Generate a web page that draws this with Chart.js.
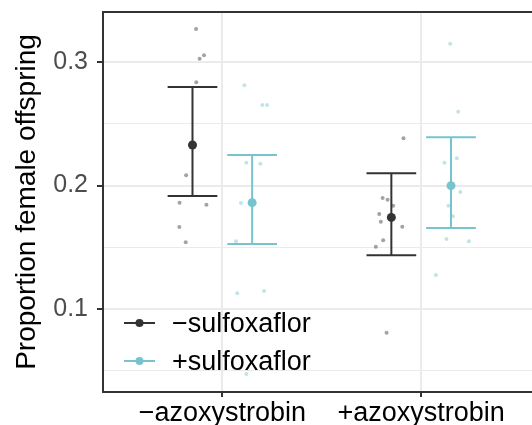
<!DOCTYPE html>
<html>
<head>
<meta charset="utf-8">
<script src="https://cdn.jsdelivr.net/npm/chart.js@4"></script>
<style>
html, body { margin: 0; padding: 0; background: #fff; overflow: hidden; }
</style>
</head>
<body>
<canvas id="chart" width="545" height="425"></canvas>
<script>
// categories and groups
const categories = ["\u2212azoxystrobin", "+azoxystrobin"];
const groups = ["\u2212sulfoxaflor", "+sulfoxaflor"];

// means and error bars (per category)
const meanMinus = [0.2328, 0.1742];
const lowMinus = [0.1915, 0.1435];
const highMinus = [0.2798, 0.2099];
const meanPlus = [0.1861, 0.1999];
const lowPlus = [0.1526, 0.1656];
const highPlus = [0.2247, 0.2390];

// raw jittered observations (x in category units)
const rawMinusX = [0.868, 0.908, 0.886, 0.869, 0.818, 0.785, 0.920, 0.784, 0.816,
                   1.911, 1.806, 1.831, 1.859, 1.789, 1.797, 1.905, 1.809, 1.772, 1.826];
const rawMinusY = [0.3267, 0.3054, 0.3027, 0.2836, 0.2083, 0.1861, 0.1845, 0.1664, 0.1540,
                   0.2382, 0.1899, 0.1885, 0.1836, 0.1769, 0.1707, 0.1667, 0.1556, 0.1504, 0.0808];
const rawPlusX = [1.111, 1.201, 1.225, 1.121, 1.191, 1.094, 1.069, 1.075, 1.210, 1.121,
                  2.146, 2.186, 2.179, 2.117, 2.197, 2.137, 2.159, 2.127, 2.240, 2.074];
const rawPlusY = [0.2811, 0.2652, 0.2652, 0.2185, 0.2177, 0.1858, 0.1548, 0.1127, 0.1146, 0.0474,
                  0.3148, 0.2598, 0.2220, 0.2185, 0.1947, 0.1836, 0.1751, 0.1567, 0.1548, 0.1275];

const yTicks = [0.05, 0.1, 0.15, 0.2, 0.25, 0.3];

const DARK = "#333333";
const TEAL = "#78c4ce";
const dodge = 0.15;
const capHalf = 0.125;

function isMajor(v) {
    return Math.round(v * 100) % 10 === 0;
}

const series = [
    { color: DARK, off: -dodge, mean: meanMinus, low: lowMinus, high: highMinus },
    { color: TEAL, off: dodge, mean: meanPlus, low: lowPlus, high: highPlus },
];

// error bars, top border and the legend
const extras = {
    id: "extras",
    afterDatasetDraw(chart, args) {
        if (args.index !== 2) return;
        const { ctx, scales: { x, y } } = chart;
        ctx.save();
        ctx.lineWidth = 2;
        series.forEach((s) => {
            ctx.strokeStyle = s.color;
            for (let i = 0; i < categories.length; i++) {
                const cx = i + 1 + s.off;
                const px = x.getPixelForValue(cx);
                const x0 = x.getPixelForValue(cx - capHalf);
                const x1 = x.getPixelForValue(cx + capHalf);
                const yl = y.getPixelForValue(s.low[i]);
                const yh = y.getPixelForValue(s.high[i]);
                ctx.beginPath();
                ctx.moveTo(px, yl);
                ctx.lineTo(px, yh);
                ctx.moveTo(x0, yl);
                ctx.lineTo(x1, yl);
                ctx.moveTo(x0, yh);
                ctx.lineTo(x1, yh);
                ctx.stroke();
            }
        });
        ctx.restore();
    },
    afterDraw(chart) {
        const { ctx, chartArea } = chart;
        ctx.save();
        // top border
        ctx.strokeStyle = DARK;
        ctx.lineWidth = 2;
        ctx.beginPath();
        ctx.moveTo(chartArea.left, chartArea.top);
        ctx.lineTo(chartArea.right, chartArea.top);
        ctx.stroke();
        // legend
        const colors = [DARK, TEAL];
        groups.forEach((g, i) => {
            const ly = chartArea.bottom - 69 + i * 38;
            const lx = chartArea.left + 21;
            ctx.strokeStyle = colors[i];
            ctx.fillStyle = colors[i];
            ctx.lineWidth = 2;
            ctx.beginPath();
            ctx.moveTo(lx, ly);
            ctx.lineTo(lx + 31, ly);
            ctx.stroke();
            ctx.beginPath();
            ctx.arc(lx + 15.5, ly, 4, 0, Math.PI * 2);
            ctx.fill();
            ctx.fillStyle = "#000";
            ctx.font = "27px 'Liberation Sans', Arial, sans-serif";
            ctx.textBaseline = "alphabetic";
            ctx.fillText(g, lx + 48, ly + 9);
        });
        ctx.restore();
    },
};

new Chart(document.getElementById("chart"), {
    type: "scatter",
    data: {
        datasets: [
            {
                label: "mean minus",
                data: meanMinus.map((v, i) => ({ x: i + 1 - dodge, y: v })),
                backgroundColor: DARK,
                borderWidth: 0,
                pointRadius: 4.5,
            },
            {
                label: "mean plus",
                data: meanPlus.map((v, i) => ({ x: i + 1 + dodge, y: v })),
                backgroundColor: TEAL,
                borderWidth: 0,
                pointRadius: 4.5,
            },
            {
                label: "raw minus",
                data: rawMinusX.map((v, i) => ({ x: v, y: rawMinusY[i] })),
                backgroundColor: "rgba(51,51,51,0.45)",
                borderWidth: 0,
                pointRadius: 2,
            },
            {
                label: "raw plus",
                data: rawPlusX.map((v, i) => ({ x: v, y: rawPlusY[i] })),
                backgroundColor: "rgba(120,196,206,0.45)",
                borderWidth: 0,
                pointRadius: 2,
            },
        ],
    },
    options: {
        responsive: false,
        devicePixelRatio: 1,
        animation: false,
        layout: { padding: { top: 12, left: 0, right: 4, bottom: 0 } },
        plugins: {
            legend: { display: false },
            tooltip: { enabled: false },
        },
        scales: {
            x: {
                type: "linear",
                min: 0.4,
                max: 2.6,
                afterBuildTicks: (s) => {
                    s.ticks = [{ value: 1 }, { value: 2 }];
                },
                afterFit: (s) => {
                    s.height = 33;
                    s.paddingLeft = 0;
                    s.paddingRight = 0;
                },
                ticks: {
                    callback: (v) => categories[v - 1],
                    font: { family: "'Liberation Sans', Arial, sans-serif", size: 27 },
                    color: "#000",
                    padding: 0,
                    maxRotation: 0,
                    autoSkip: false,
                },
                grid: {
                    color: "#ebebeb",
                    lineWidth: 2,
                    tickLength: 5,
                    tickColor: DARK,
                    tickWidth: 2,
                },
                border: { color: DARK, width: 2 },
            },
            y: {
                min: 0.0328,
                max: 0.3405,
                afterBuildTicks: (s) => {
                    s.ticks = yTicks.map((v) => ({ value: v }));
                },
                afterFit: (s) => {
                    s.width = 103;
                    s.paddingTop = 0;
                    s.paddingBottom = 0;
                },
                ticks: {
                    callback: (v) => (isMajor(v) ? v.toFixed(1) : ""),
                    font: { family: "'Liberation Sans', Arial, sans-serif", size: 25 },
                    color: "#4d4d4d",
                    padding: 9,
                    autoSkip: false,
                },
                grid: {
                    color: "#ebebeb",
                    lineWidth: (c) => (c.tick && isMajor(c.tick.value) ? 2 : 1),
                    tickLength: 6,
                    tickColor: (c) => (c.tick && isMajor(c.tick.value) ? DARK : "rgba(0,0,0,0)"),
                    tickWidth: 2,
                },
                border: { color: DARK, width: 2 },
                title: {
                    display: true,
                    text: "Proportion female offspring",
                    font: { family: "'Liberation Sans', Arial, sans-serif", size: 28 },
                    color: "#000",
                    padding: { top: 10, bottom: 0 },
                },
            },
        },
    },
    plugins: [extras],
});
</script>
</body>
</html>
